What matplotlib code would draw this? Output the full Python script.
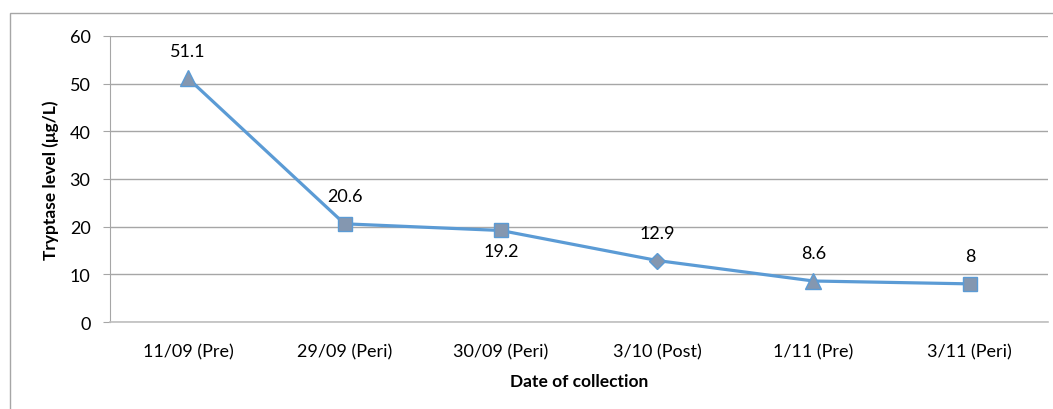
import matplotlib.pyplot as plt
from matplotlib.patches import Rectangle

plt.rcParams['font.family'] = ['Lato', 'DejaVu Sans']

dates = ['11/09 (Pre)', '29/09 (Peri)', '30/09 (Peri)', '3/10 (Post)', '1/11 (Pre)', '3/11 (Peri)']
tryptase = [51.1, 20.6, 19.2, 12.9, 8.6, 8]
markers = ['^', 's', 's', 'D', '^', 's']
label_above = [True, True, False, True, True, True]

line_col = '#5B9BD5'
marker_fill = '#8497B0'

fig = plt.figure(figsize=(10.53, 4.10), dpi=100)
ax = fig.add_axes([110 / 1053, 1 - 323 / 410, 938 / 1053, 286 / 410])

# outer chart frame (only top and left edges fall inside the image)
fig.patches.append(Rectangle((10 / 1053, -0.1), 1.2, 1 - 14 / 410 + 0.1,
                             transform=fig.transFigure, fill=False,
                             edgecolor='#a6a6a6', linewidth=1.0))

x = list(range(len(dates)))
ax.plot(x, tryptase, color=line_col, linewidth=2.3, zorder=3)
for xi, yi, m in zip(x, tryptase, markers):
    size = {'^': 11, 's': 10, 'D': 8}[m]
    ax.plot(xi, yi, marker=m, markersize=size, markerfacecolor=marker_fill,
            markeredgecolor=line_col, markeredgewidth=1.0, linestyle='none', zorder=4)

for xi, yi, up in zip(x, tryptase, label_above):
    ax.annotate(f'{yi:g}', (xi, yi), xytext=(0, 20 if up else -15),
                textcoords='offset points', ha='center', va='center', fontsize=13)

ax.set_xlim(-0.5, len(dates) - 0.5)
ax.set_ylim(0, 60)
ax.set_yticks(range(0, 61, 10))
ax.set_xticks(x)
ax.set_xticklabels(dates)
ax.yaxis.grid(True, color='#a6a6a6', linewidth=1.0)
ax.set_axisbelow(True)

for side in ['top', 'right']:
    ax.spines[side].set_visible(False)
ax.spines['left'].set_color('#a6a6a6')
ax.spines['bottom'].set_color('#bfbfbf')
ax.spines['bottom'].set_linewidth(1.2)
ax.tick_params(axis='y', length=5, color='#a6a6a6', labelsize=13, pad=9)
ax.tick_params(axis='x', length=0, labelsize=13, pad=15)

ax.set_ylabel('Tryptase level (μg/L)', fontsize=12.5, fontweight='bold', labelpad=8)
ax.set_xlabel('Date of collection', fontsize=12.5, fontweight='bold', labelpad=10)

fig.savefig('out.png', dpi=100)
